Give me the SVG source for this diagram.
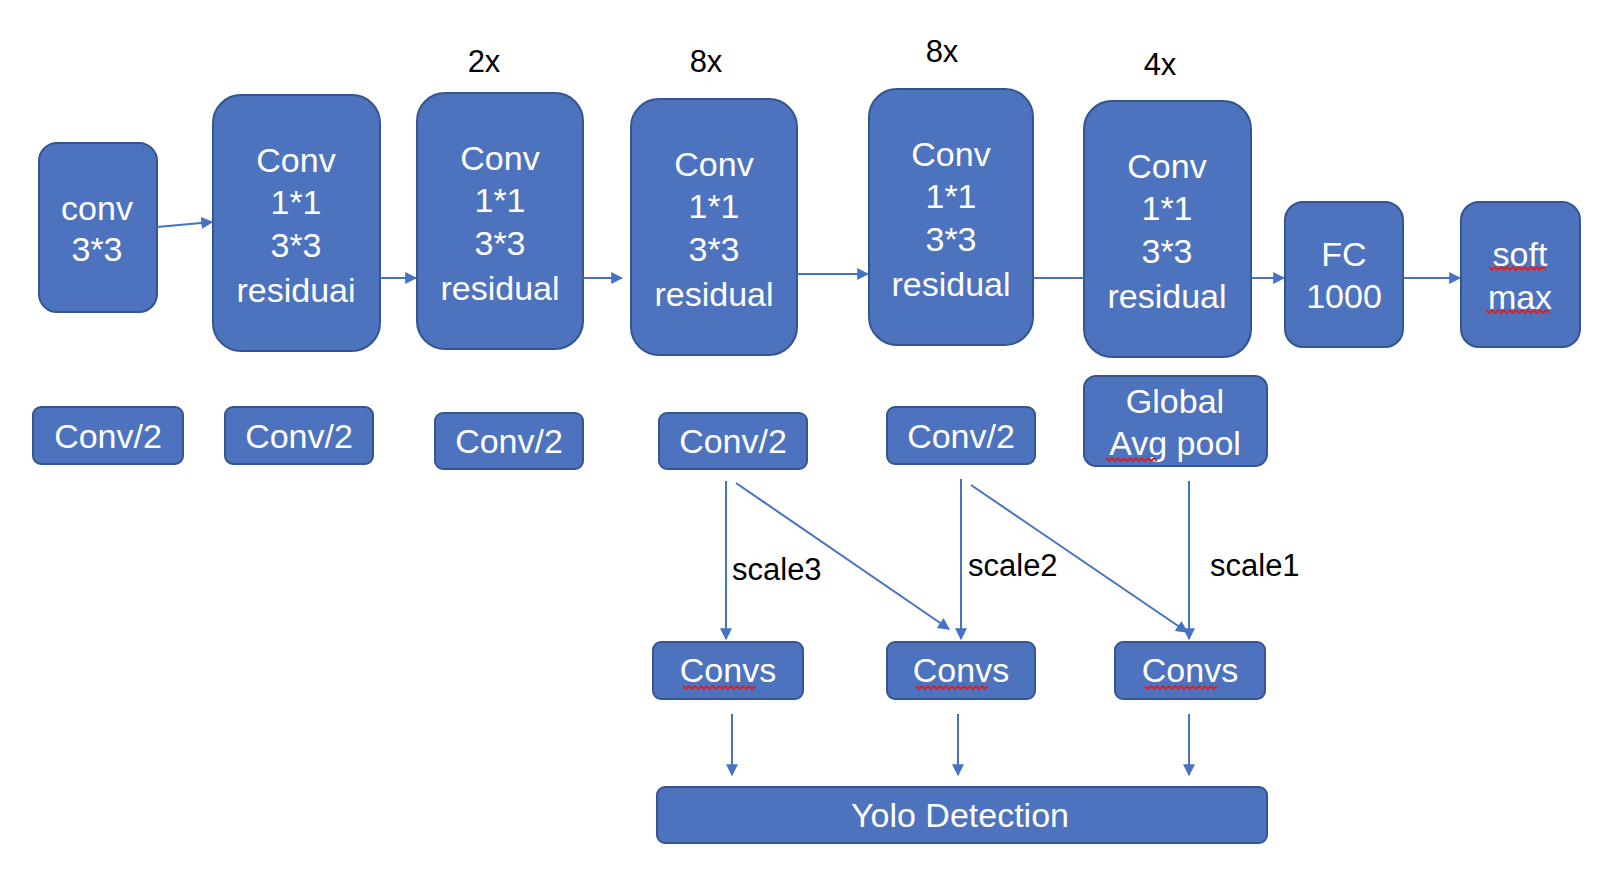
<svg xmlns="http://www.w3.org/2000/svg" width="1604" height="878" viewBox="0 0 1604 878">
<defs>
<style>
.b{fill:#4e73be;stroke:#34558f;stroke-width:2}
.t{font-family:"Liberation Sans",Arial,sans-serif;font-size:34px;fill:#fff;text-anchor:middle;dominant-baseline:central}
.k{font-family:"Liberation Sans",Arial,sans-serif;font-size:31px;fill:#000;dominant-baseline:central}
.c{stroke:#4472c4;stroke-width:2;fill:none;marker-end:url(#a)}
.l{stroke:#4472c4;stroke-width:2;fill:none}
.w{stroke:#e02020;stroke-width:1.8;fill:none}
</style>
<marker id="a" viewBox="0 0 10 10" refX="9" refY="5" markerWidth="6" markerHeight="6" orient="auto" markerUnits="strokeWidth">
<path d="M0,0 L10,5 L0,10 z" fill="#4472c4"/>
</marker>
</defs>
<rect width="1604" height="878" fill="#fff"/>

<g id="labels">
<text class="k" x="484" y="61" text-anchor="middle">2x</text>
<text class="k" x="706" y="61" text-anchor="middle">8x</text>
<text class="k" x="942" y="51" text-anchor="middle">8x</text>
<text class="k" x="1160" y="64" text-anchor="middle">4x</text>
<text class="k" x="732" y="569">scale3</text>
<text class="k" x="968" y="565">scale2</text>
<text class="k" x="1210" y="565">scale1</text>
</g>

<g id="conv33">
<rect class="b" x="39" y="143" width="118" height="169" rx="18"/>
<text class="t" x="97" y="208">conv</text>
<text class="t" x="97" y="249">3*3</text>
</g>
<g id="res1">
<rect class="b" x="213" y="95" width="167" height="256" rx="28"/>
<text class="t" x="296" y="160">Conv</text>
<text class="t" x="296" y="202">1*1</text>
<text class="t" x="296" y="245">3*3</text>
<text class="t" x="296" y="290">residuai</text>
</g>
<g id="res2">
<rect class="b" x="417" y="93" width="166" height="256" rx="28"/>
<text class="t" x="500" y="158">Conv</text>
<text class="t" x="500" y="200">1*1</text>
<text class="t" x="500" y="243">3*3</text>
<text class="t" x="500" y="288">residual</text>
</g>
<g id="res8a">
<rect class="b" x="631" y="99" width="166" height="256" rx="28"/>
<text class="t" x="714" y="164">Conv</text>
<text class="t" x="714" y="206">1*1</text>
<text class="t" x="714" y="249">3*3</text>
<text class="t" x="714" y="294">residual</text>
</g>
<g id="res8b">
<rect class="b" x="869" y="89" width="164" height="256" rx="28"/>
<text class="t" x="951" y="154">Conv</text>
<text class="t" x="951" y="196">1*1</text>
<text class="t" x="951" y="239">3*3</text>
<text class="t" x="951" y="284">residual</text>
</g>
<g id="res4">
<rect class="b" x="1084" y="101" width="167" height="256" rx="28"/>
<text class="t" x="1167" y="166">Conv</text>
<text class="t" x="1167" y="208">1*1</text>
<text class="t" x="1167" y="251">3*3</text>
<text class="t" x="1167" y="296">residual</text>
</g>
<g id="fc">
<rect class="b" x="1285" y="202" width="118" height="145" rx="18"/>
<text class="t" x="1344" y="254">FC</text>
<text class="t" x="1344" y="296">1000</text>
</g>
<g id="softmax">
<rect class="b" x="1461" y="202" width="119" height="145" rx="18"/>
<text class="t" x="1520" y="254">soft</text>
<text class="t" x="1520" y="297">max</text>
<path class="w" d="M1489,267 l3,3 l3,-3 l3,3 l3,-3 l3,3 l3,-3 l3,3 l3,-3 l3,3 l3,-3 l3,3 l3,-3 l3,3 l3,-3 l3,3 l3,-3 l3,3 l3,-3 l3,3"/>
<path class="w" d="M1486,310 l3,3 l3,-3 l3,3 l3,-3 l3,3 l3,-3 l3,3 l3,-3 l3,3 l3,-3 l3,3 l3,-3 l3,3 l3,-3 l3,3 l3,-3 l3,3 l3,-3 l3,3 l3,-3 l3,3"/>
</g>

<g id="down1">
<rect class="b" x="33" y="407" width="150" height="57" rx="8"/>
<text class="t" x="108" y="436">Conv/2</text>
</g>
<g id="down2">
<rect class="b" x="225" y="407" width="148" height="57" rx="8"/>
<text class="t" x="299" y="436">Conv/2</text>
</g>
<g id="down3">
<rect class="b" x="435" y="413" width="148" height="56" rx="8"/>
<text class="t" x="509" y="441">Conv/2</text>
</g>
<g id="down4">
<rect class="b" x="659" y="413" width="148" height="56" rx="8"/>
<text class="t" x="733" y="441">Conv/2</text>
</g>
<g id="down5">
<rect class="b" x="887" y="407" width="148" height="57" rx="8"/>
<text class="t" x="961" y="436">Conv/2</text>
</g>
<g id="gap">
<rect class="b" x="1084" y="376" width="183" height="90" rx="12"/>
<text class="t" x="1175" y="401">Global</text>
<text class="t" x="1175" y="443">Avg pool</text>
<path class="w" d="M1106,458 l3,3 l3,-3 l3,3 l3,-3 l3,3 l3,-3 l3,3 l3,-3 l3,3 l3,-3 l3,3 l3,-3 l3,3 l3,-3 l3,3 l3,-3 l3,3"/>
</g>

<g id="convs1">
<rect class="b" x="653" y="642" width="150" height="57" rx="8"/>
<text class="t" x="728" y="670">Convs</text>
<path class="w" d="M683,686 l3,3 l3,-3 l3,3 l3,-3 l3,3 l3,-3 l3,3 l3,-3 l3,3 l3,-3 l3,3 l3,-3 l3,3 l3,-3 l3,3 l3,-3 l3,3 l3,-3 l3,3 l3,-3 l3,3 l3,-3 l3,3 l3,-3"/>
</g>
<g id="convs2">
<rect class="b" x="887" y="642" width="148" height="57" rx="8"/>
<text class="t" x="961" y="670">Convs</text>
<path class="w" d="M916,686 l3,3 l3,-3 l3,3 l3,-3 l3,3 l3,-3 l3,3 l3,-3 l3,3 l3,-3 l3,3 l3,-3 l3,3 l3,-3 l3,3 l3,-3 l3,3 l3,-3 l3,3 l3,-3 l3,3 l3,-3 l3,3 l3,-3"/>
</g>
<g id="convs3">
<rect class="b" x="1115" y="642" width="150" height="57" rx="8"/>
<text class="t" x="1190" y="670">Convs</text>
<path class="w" d="M1145,686 l3,3 l3,-3 l3,3 l3,-3 l3,3 l3,-3 l3,3 l3,-3 l3,3 l3,-3 l3,3 l3,-3 l3,3 l3,-3 l3,3 l3,-3 l3,3 l3,-3 l3,3 l3,-3 l3,3 l3,-3 l3,3 l3,-3"/>
</g>
<g id="yolo">
<rect class="b" x="657" y="787" width="610" height="56" rx="8"/>
<text class="t" x="960" y="815">Yolo Detection</text>
</g>

<g id="connectors">
<line class="c" x1="157" y1="227" x2="212" y2="222"/>
<line class="c" x1="380" y1="278" x2="416" y2="278"/>
<line class="c" x1="583" y1="278" x2="622" y2="278"/>
<line class="c" x1="797" y1="274" x2="868" y2="274"/>
<line class="l" x1="1033" y1="278" x2="1084" y2="278"/>
<line class="c" x1="1251" y1="278" x2="1284" y2="278"/>
<line class="c" x1="1403" y1="278" x2="1460" y2="278"/>
<line class="c" x1="726" y1="481" x2="726" y2="639"/>
<line class="c" x1="736" y1="483" x2="949" y2="629"/>
<line class="c" x1="961" y1="479" x2="961" y2="639"/>
<line class="c" x1="971" y1="485" x2="1187" y2="632"/>
<line class="c" x1="1189" y1="481" x2="1189" y2="639"/>
<line class="c" x1="732" y1="714" x2="732" y2="775"/>
<line class="c" x1="958" y1="714" x2="958" y2="775"/>
<line class="c" x1="1189" y1="714" x2="1189" y2="775"/>
</g>
</svg>
